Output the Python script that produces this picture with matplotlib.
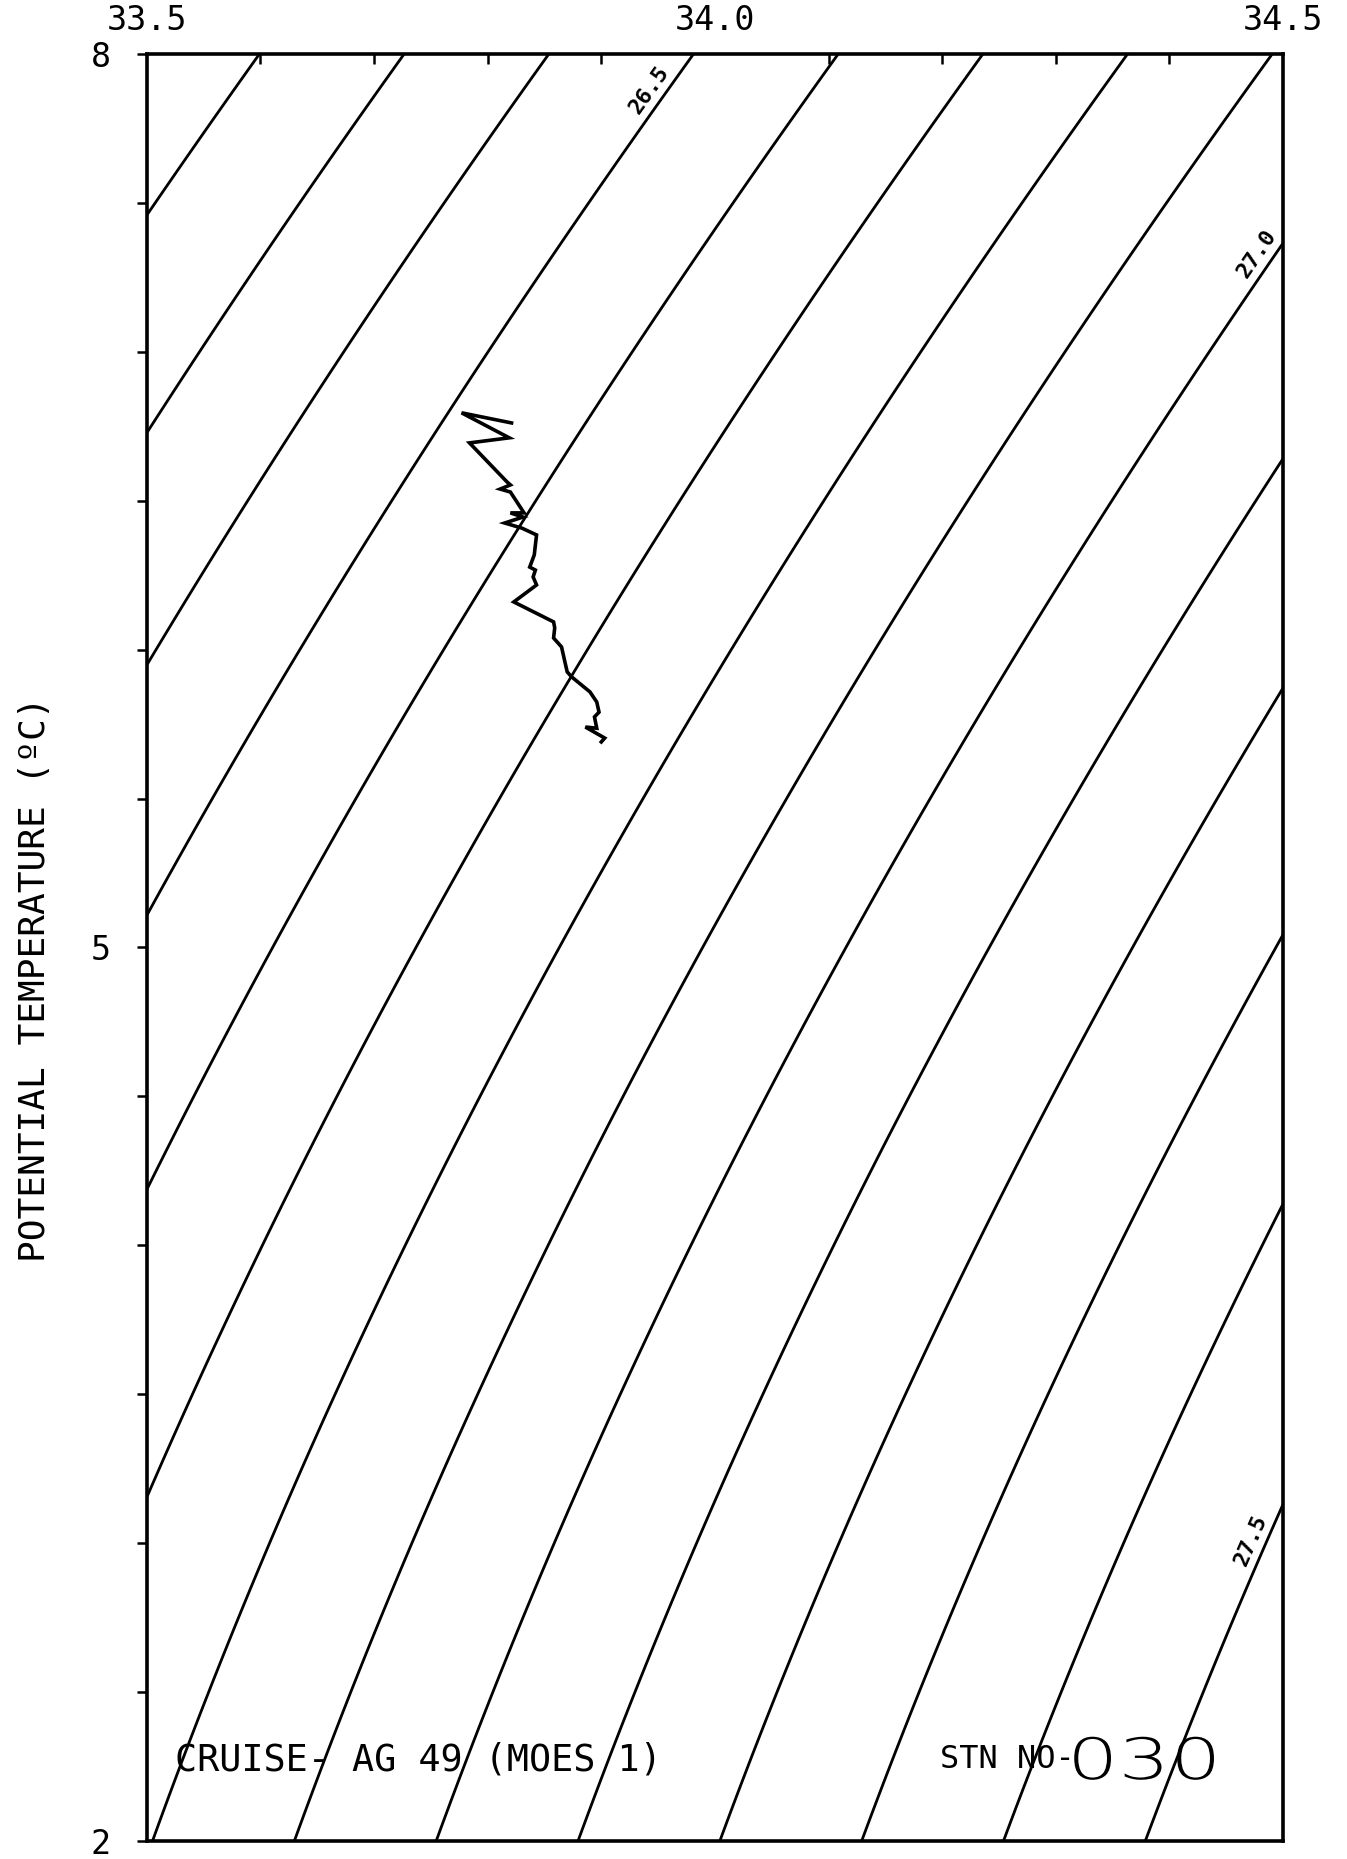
# T-S diagram, cruise AG 49 (MOES 1) station 030
import numpy as np
import matplotlib
matplotlib.use('Agg')
import matplotlib.pyplot as plt
from matplotlib.textpath import TextPath
from matplotlib.patches import PathPatch
from matplotlib.font_manager import FontProperties
from matplotlib.transforms import Affine2D

# axis ranges
S_MIN, S_MAX = 33.5, 34.5
T_MIN, T_MAX = 2.0, 8.0

# isopycnal levels (sigma-theta) and the labelled ones with the temperature of the label
SIGMA_LEVELS = [26.0, 26.1, 26.2, 26.3, 26.4, 26.5, 26.6, 26.7, 26.8, 26.9,
                27.0, 27.1, 27.2, 27.3, 27.4, 27.5, 27.6, 27.7]
LABEL_LEVELS = [26.5, 27.0, 27.5]
LABEL_TEMPS = [7.85, 7.30, 2.99]
SIGMA_OFFSET = 0.026   # old density tables sit a little above EOS-80

# station profile (salinity, potential temperature)
PROFILE_S = [33.821, 33.777, 33.819, 33.784, 33.817, 33.820, 33.811, 33.820,
             33.832, 33.820, 33.831, 33.815, 33.830, 33.843, 33.841, 33.837,
             33.842, 33.840, 33.843, 33.823, 33.858, 33.859, 33.858, 33.865,
             33.868, 33.870, 33.874, 33.890, 33.896, 33.898, 33.894, 33.896,
             33.886, 33.903, 33.900]
PROFILE_T = [6.761, 6.795, 6.711, 6.694, 6.563, 6.553, 6.539, 6.529,
             6.459, 6.459, 6.445, 6.425, 6.408, 6.385, 6.318, 6.277,
             6.267, 6.244, 6.217, 6.160, 6.093, 6.073, 6.039, 6.009,
             5.958, 5.925, 5.908, 5.858, 5.824, 5.790, 5.774, 5.736,
             5.740, 5.703, 5.690]

X_TICKS = [33.5, 34.0, 34.5]
X_TICK_LABELS = ['33.5', '34.0', '34.5']
Y_TICKS = [2, 5, 8]
Y_TICK_LABELS = ['2', '5', '8']

STATION = '030'

MONO = 'DejaVu Sans Mono'


def sigma0( S, T ):
	# UNESCO 1980 one-atmosphere density minus 1000
	rho_w = ( 999.842594 + 6.793952e-2 * T - 9.095290e-3 * T**2 + 1.001685e-4 * T**3
	          - 1.120083e-6 * T**4 + 6.536332e-9 * T**5 )
	A = 8.24493e-1 - 4.0899e-3 * T + 7.6438e-5 * T**2 - 8.2467e-7 * T**3 + 5.3875e-9 * T**4
	B = -5.72466e-3 + 1.0227e-4 * T - 1.6546e-6 * T**2
	C = 4.8314e-4
	return rho_w + A * S + B * S**1.5 + C * S**2 - 1000.0 + SIGMA_OFFSET


def salinity_on( level, T ):
	lo, hi = 32.0, 36.0
	for _ in range( 60 ):
		mid = 0.5 * ( lo + hi )
		if sigma0( mid, T ) < level:
			lo = mid
		else:
			hi = mid
	return 0.5 * ( lo + hi )


DPI = 100
fig = plt.figure( figsize = ( 13.47, 18.59 ), dpi = DPI )
ax = fig.add_axes( [ 0.109, 0.0097, 0.8435, 0.9613 ] )
ax.set_xlim( S_MIN, S_MAX )
ax.set_ylim( T_MIN, T_MAX )

# isopycnals
S_grid, T_grid = np.meshgrid( np.linspace( S_MIN, S_MAX, 300 ), np.linspace( T_MIN, T_MAX, 300 ) )
ax.contour( S_grid, T_grid, sigma0( S_grid, T_grid ), levels = SIGMA_LEVELS,
            colors = 'black', linewidths = 2.0, linestyles = 'solid' )

# labels along the lines
for level, t in zip( LABEL_LEVELS, LABEL_TEMPS ):
	s1 = salinity_on( level, t )
	s2 = salinity_on( level, t + 0.05 )
	p1 = ax.transData.transform( ( s1, t ) )
	p2 = ax.transData.transform( ( s2, t + 0.05 ) )
	ang = np.arctan2( p2[1] - p1[1], p2[0] - p1[0] )
	off = 5.0
	ax.annotate( '{:.1f}'.format( level ), xy = ( s1, t ),
	             xytext = ( -off * np.sin( ang ), off * np.cos( ang ) ), textcoords = 'offset pixels',
	             rotation = np.degrees( ang ), rotation_mode = 'anchor',
	             ha = 'center', va = 'bottom', fontsize = 16, fontweight = 'bold', family = MONO )

# profile
ax.plot( PROFILE_S, PROFILE_T, color = 'black', linewidth = 2.6, solid_joinstyle = 'miter' )

# frame and ticks
for sp in ax.spines.values():
	sp.set_linewidth( 2.6 )

ax.xaxis.tick_top()
ax.set_xticks( X_TICKS )
ax.set_xticklabels( X_TICK_LABELS, family = MONO, fontsize = 24 )
ax.set_xticks( np.arange( 33.6, 34.45, 0.1 ), minor = True )
ax.tick_params( axis = 'x', which = 'both', direction = 'in', length = 7, width = 1.8, pad = 12 )
ax.tick_params( axis = 'x', which = 'major', length = 0 )

ax.set_yticks( Y_TICKS )
ax.set_yticklabels( Y_TICK_LABELS, family = MONO, fontsize = 24 )
ax.set_yticks( np.arange( 2.5, 8.0, 0.5 ), minor = True )
ax.tick_params( axis = 'y', which = 'both', direction = 'out', length = 7, width = 1.8, pad = 19 )

fig.text( 0.026, 0.473, 'POTENTIAL TEMPERATURE (ºC)', rotation = 90, ha = 'center', va = 'center',
          family = MONO, fontsize = 26 )

fig.text( 0.130, 0.0533, 'CRUISE- AG 49 (MOES 1)', ha = 'left', va = 'center', family = MONO, fontsize = 26.5 )
fig.text( 0.698, 0.0533, 'STN NO-', ha = 'left', va = 'center', family = MONO, fontsize = 23 )

# station number: large, thin and wide plotter digits (text path stretched sideways)
num_path = TextPath( ( 0, 0 ), STATION, size = 57,
                     prop = FontProperties( family = 'DejaVu Sans', weight = 'light' ) )
num_tr = Affine2D().scale( 1.42 / DPI, 1.0 / DPI ).translate( 1067 / DPI, 80 / DPI ) + fig.dpi_scale_trans
fig.add_artist( PathPatch( num_path, transform = num_tr, facecolor = 'black', edgecolor = 'none' ) )

fig.savefig( 'out.png', dpi = DPI )
